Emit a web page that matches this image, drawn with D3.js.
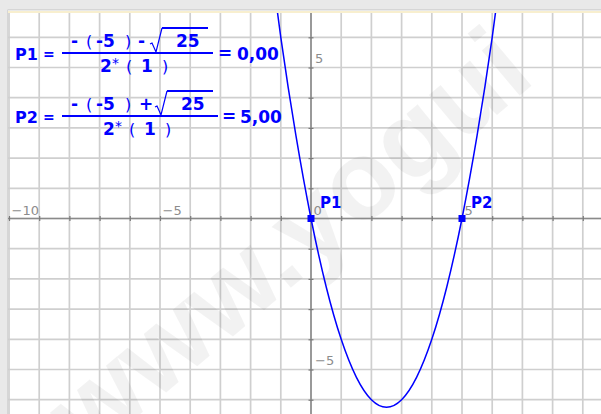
<!DOCTYPE html>
<html lang="es">
<head>
<meta charset="UTF-8">
<title>Raíces de la parábola</title>
<style>
body{margin:0;background:#e9e9e9;}
svg{display:block;}
</style>
</head>
<body>
<script src="https://cdn.jsdelivr.net/npm/d3@7/dist/d3.min.js"></script>
<script>
// y = a x^2 + b x + c
var coefs=[1,-5,0];
var rootNames=['P1','P2'];
var rootValues=[0,5];
// points
var curveX=[-1.5,-1,-0.5,0,0.5,1,1.5,2,2.5,3,3.5,4,4.5,5,5.5,6,6.5];
var curveY=[9.75,6,2.75,0,-2.25,-4,-5.25,-6,-6.25,-6,-5.25,-4,-2.25,0,2.75,6,9.75];
var xTicks=[-10,-9,-8,-7,-6,-5,-4,-3,-2,-1,0,1,2,3,4,5,6,7,8,9];
var yTicks=[-6,-5,-4,-3,-2,-1,0,1,2,3,4,5,6];
var xLabels=[-10,-5,0,5];
var yLabels=[-5,5];

var width=601,height=414;
var plot={left:8,top:11};
var unit=30.2, x0=311, y0=218.5;

var svg=d3.select('body').append('svg')
	.attr('width',width)
	.attr('height',height);

var xs=d3.scaleLinear().domain([-10,10]).range([x0-10*unit,x0+10*unit]);
var ys=d3.scaleLinear().domain([-7,7]).range([y0+7*unit,y0-7*unit]);

// frame
svg.append('rect').attr('width',width).attr('height',height).attr('fill','#e9e9e9');
svg.append('rect').attr('x',plot.left).attr('y',plot.top)
	.attr('width',width-plot.left).attr('height',height-plot.top).attr('fill','#fff');
svg.append('line').attr('x1',plot.left).attr('x2',width).attr('y1',9.5).attr('y2',9.5)
	.attr('stroke','#d6d6d6');
svg.append('line').attr('x1',plot.left).attr('x2',width).attr('y1',12).attr('y2',12)
	.attr('stroke','#f8efcf').attr('stroke-width',2);
svg.append('line').attr('x1',7.5).attr('x2',7.5).attr('y1',9.5).attr('y2',height)
	.attr('stroke','#d6d6d6');

svg.append('clipPath').attr('id','clip')
	.append('rect').attr('x',plot.left).attr('y',plot.top+2)
	.attr('width',width-plot.left).attr('height',height-plot.top-2);

var g=svg.append('g').attr('clip-path','url(#clip)');

// grid
g.selectAll('.vgrid').data(xTicks).enter().append('line')
	.attr('class','vgrid')
	.attr('x1',function(d){return xs(d);})
	.attr('x2',function(d){return xs(d);})
	.attr('y1',0).attr('y2',height)
	.attr('stroke','#cfcfcf').attr('stroke-width',1.7);
g.selectAll('.hgrid').data(yTicks).enter().append('line')
	.attr('class','hgrid')
	.attr('y1',function(d){return ys(d);})
	.attr('y2',function(d){return ys(d);})
	.attr('x1',0).attr('x2',width)
	.attr('stroke','#cfcfcf').attr('stroke-width',1.7);

// watermark
g.append('text')
	.attr('transform','translate(88,458) rotate(-40)')
	.attr('font-family','Liberation Sans, Arial, sans-serif')
	.attr('font-weight','bold')
	.attr('font-size',112)
	.attr('fill','#000')
	.attr('fill-opacity',0.05)
	.text('www.yogui');

// axes lines
g.append('line').attr('x1',0).attr('x2',width).attr('y1',ys(0)).attr('y2',ys(0))
	.attr('stroke','#8a8a8a').attr('stroke-width',1.6);
g.append('line').attr('y1',0).attr('y2',height).attr('x1',xs(0)).attr('x2',xs(0))
	.attr('stroke','#8a8a8a').attr('stroke-width',1.6);

var fmt=d3.format('');
var xAxis=d3.axisBottom(xs).tickValues(xTicks).tickSizeOuter(0)
	.tickFormat(function(d){return xLabels.indexOf(d)>=0?fmt(d):'';});
var yAxis=d3.axisLeft(ys).tickValues(yTicks).tickSizeOuter(0)
	.tickFormat(function(d){return yLabels.indexOf(d)>=0?fmt(d):'';});

var gx=g.append('g').attr('transform','translate(0,'+ys(0)+')').call(xAxis);
var gy=g.append('g').attr('transform','translate('+xs(0)+',0)').call(yAxis);
[gx,gy].forEach(function(a){
	a.select('.domain').remove();
	a.attr('font-family','DejaVu Sans, sans-serif').attr('font-size',13);
	a.selectAll('.tick line').attr('stroke','#7a7a7a').attr('stroke-width',1.2);
	a.selectAll('.tick text').attr('fill','#8c8c8c').attr('dy',null).attr('text-anchor','start');
});
gx.selectAll('.tick line').attr('y1',-2.5).attr('y2',2.5);
gx.selectAll('.tick text').attr('x',2).attr('y',-3.5);
gy.selectAll('.tick line').attr('x1',-2.5).attr('x2',2.5);
gy.selectAll('.tick text').attr('x',4).attr('y',-5);

// curve
var pts=curveX.map(function(x,i){return [x,curveY[i]];});
var line=d3.line()
	.x(function(d){return xs(d[0]);})
	.y(function(d){return ys(d[1]);})
	.curve(d3.curveNatural);
g.append('path').datum(pts)
	.attr('d',line)
	.attr('fill','none')
	.attr('stroke','#0000ff')
	.attr('stroke-width',1.5);

// roots
g.selectAll('.root').data(rootValues).enter().append('rect')
	.attr('class','root')
	.attr('x',function(d){return xs(d)-3.5;})
	.attr('y',ys(0)-3.5)
	.attr('width',7).attr('height',7)
	.attr('fill','#0000ff');
g.selectAll('.rootlabel').data(rootValues).enter().append('text')
	.attr('class','rootlabel')
	.attr('x',function(d){return xs(d)+9;})
	.attr('y',ys(0)-10.5)
	.attr('font-family','DejaVu Sans, sans-serif')
	.attr('font-weight','bold')
	.attr('font-size',15)
	.attr('fill','#0000ff')
	.text(function(d,i){return rootNames[i];});

// formulas
var a=coefs[0],b=coefs[1],c=coefs[2];
var disc=b*b-4*a*c;
var blue='#0000ff';
var fg=svg.append('g')
	.attr('font-family','DejaVu Sans, sans-serif')
	.attr('font-size',17)
	.attr('fill',blue);

function put(x,y,s,bold,size){
	return fg.append('text').attr('x',x).attr('y',y)
		.attr('font-weight',bold===false?'normal':'bold')
		.attr('font-size',size||null)
		.text(s);
}
var rows=[
	{dy:0, op:'-', rad:151, barEnd:213, den:0, eq:218, res:237},
	{dy:63,op:'+', rad:156, barEnd:218, den:3, eq:222, res:240}
];
rows.forEach(function(r,i){
	var dy=r.dy;
	put(15,60+dy,rootNames[i],true,16);
	put(43,59+dy,'=',true,14);
	// numerator
	put(71,47+dy,'-');
	put(86,47+dy,'(',false,16);
	put(96,47+dy,String(b));
	put(125,47+dy,')',false,16);
	put(i==0?138:139,47+dy,r.op);
	fg.append('path')
		.attr('d','M'+(r.rad-1)+','+(44+dy)+'L'+(r.rad+1)+','+(43+dy)+'L'+(r.rad+5)+','+(52+dy)+'L'+(r.rad+11)+','+(28+dy))
		.attr('fill','none').attr('stroke',blue).attr('stroke-width',1.2);
	fg.append('line').attr('x1',r.rad+11).attr('x2',r.rad+57)
		.attr('y1',28+dy).attr('y2',28+dy)
		.attr('stroke',blue).attr('stroke-width',2);
	put(r.rad+25,47+dy,String(disc));
	// bar
	fg.append('line').attr('x1',62).attr('x2',r.barEnd)
		.attr('y1',53+dy).attr('y2',53+dy)
		.attr('stroke',blue).attr('stroke-width',2);
	// denominator
	put(100+r.den,72+dy,'2');
	put(112+r.den,68+dy,'*',false,14);
	put(126+r.den,72+dy,'(',false,16);
	put(141+r.den,72+dy,String(a));
	put(162+r.den,72+dy,')',false,16);
	// result
	put(r.eq,59+dy,'=');
	put(r.res,60+dy,rootValues[i].toFixed(2).replace('.',','));
});
</script>
</body>
</html>
